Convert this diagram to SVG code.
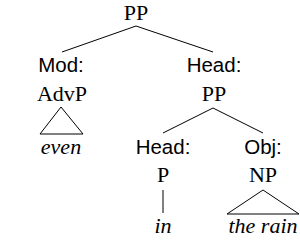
<svg xmlns="http://www.w3.org/2000/svg" width="300" height="241" viewBox="0 0 300 241">
<style>
.s{font-family:"Liberation Serif","Times New Roman",serif;font-size:22px;fill:#000;text-anchor:middle}
.i{font-family:"Liberation Serif","Times New Roman",serif;font-size:22px;font-style:italic;fill:#000;text-anchor:middle}
.f{font-family:"Liberation Sans",Arial,sans-serif;font-size:20.5px;fill:#000;text-anchor:middle}
.e{stroke:#000;stroke-width:1;fill:none}
</style>
<rect width="300" height="241" fill="#fff"/>
<g id="connectors" class="e">
<path d="M136,26 L62,52 M136,26 L213,52"/>
<path d="M61,107 L40,134 L83,134 Z"/>
<path d="M213,108 L163,133 M213,108 L263,133"/>
<path d="M163,190 L163,213"/>
<path d="M263,190 L227,214 L299,214 Z"/>
</g>
<g id="root"><text class="s" x="136" y="20">PP</text></g>
<g id="mod"><text class="f" x="61" y="72">Mod:</text><text class="s" x="62" y="101">AdvP</text></g>
<g id="even"><text class="i" x="61" y="154">even</text></g>
<g id="head"><text class="f" x="214" y="72">Head:</text><text class="s" x="214" y="101">PP</text></g>
<g id="head2"><text class="f" x="163" y="154">Head:</text><text class="s" x="163" y="182">P</text></g>
<g id="obj"><text class="f" x="263" y="154">Obj:</text><text class="s" x="263" y="182">NP</text></g>
<g id="in"><text class="i" x="163" y="233">in</text></g>
<g id="rain"><text class="i" x="263" y="233">the rain</text></g>
</svg>
